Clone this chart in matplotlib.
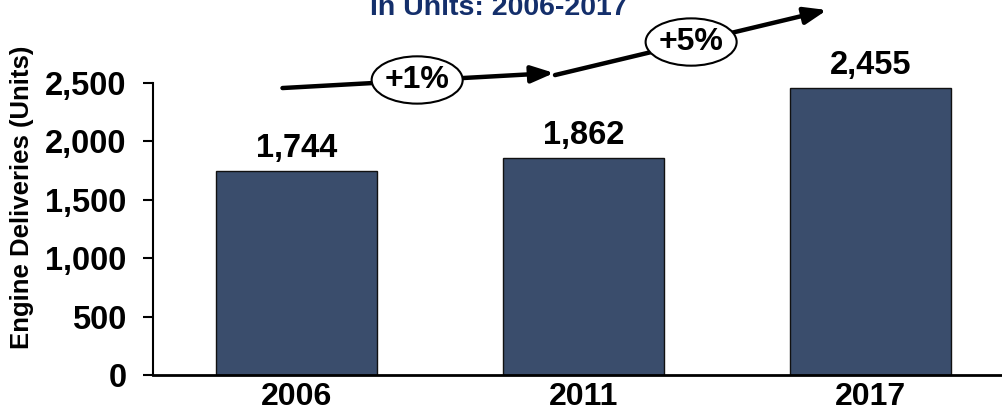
import numpy as np
import matplotlib.pyplot as plt
from matplotlib.patches import Ellipse

plt.rcParams['font.family'] = ['Liberation Sans', 'DejaVu Sans']
plt.rcParams['font.weight'] = 'bold'

years = ['2006', '2011', '2017']
deliveries = [1744, 1862, 2455]
yticks = [0, 500, 1000, 1500, 2000, 2500]
growth_labels = ['+1%', '+5%']

fig = plt.figure(figsize=(10.03, 4.12), dpi=100)
ax = fig.add_axes([0.1525, 0.0898, 0.8475, 0.7087])

x = np.arange(len(years))
ax.bar(x, deliveries, width=0.56, color='#3a4d6c', edgecolor='#111111', linewidth=1)
for xi, v in zip(x, deliveries):
    ax.annotate(f'{v:,}', (xi, v), xytext=(0, 5), textcoords='offset points',
                ha='center', va='bottom', fontsize=23.5, fontweight='bold')

ax.set_xlim(-0.5, 2.46)
ax.set_ylim(0, 2500)
ax.set_xticks(x)
ax.set_xticklabels(years, fontsize=23, fontweight='bold')
ax.set_yticks(yticks)
ax.set_yticklabels([f'{t:,}' for t in yticks], fontsize=23.5, fontweight='bold')
ax.tick_params(axis='x', length=0, pad=5)
ax.tick_params(axis='y', length=7, width=1.5, direction='out', pad=12)
for s in ['top', 'right']:
    ax.spines[s].set_visible(False)
ax.spines['left'].set_linewidth(1.5)
ax.spines['bottom'].set_linewidth(2)

fig.text(0.022, 0.52, 'Engine Deliveries (Units)', rotation=90, ha='center', va='center',
         fontsize=18.5, fontweight='bold')
fig.text(0.497, 1 - 15/412, 'In Units: 2006-2017', ha='center', va='baseline',
         fontsize=20.5, fontweight='bold', color='#142f6b')

# trend arrows between periods
segs = [((-0.049, 2457), (0.897, 2586)), ((0.90, 2568), (1.847, 3125))]
centers = [(0.42, 2526), (1.374, 2851)]
for (p0, p1), c, lab in zip(segs, centers, growth_labels):
    ax.annotate('', xy=p1, xytext=p0, annotation_clip=False,
                arrowprops=dict(arrowstyle='-|>,head_length=0.8,head_width=0.3',
                                lw=3.2, color='black', mutation_scale=17,
                                shrinkA=0, shrinkB=0))
    e = Ellipse(c, 0.317, 405, facecolor='white', edgecolor='black', lw=1.5,
                clip_on=False, zorder=5)
    ax.add_patch(e)
    ax.text(c[0], c[1], lab, ha='center', va='center', fontsize=23,
            fontweight='bold', zorder=6, clip_on=False)

fig.savefig('out.png', dpi=100)
